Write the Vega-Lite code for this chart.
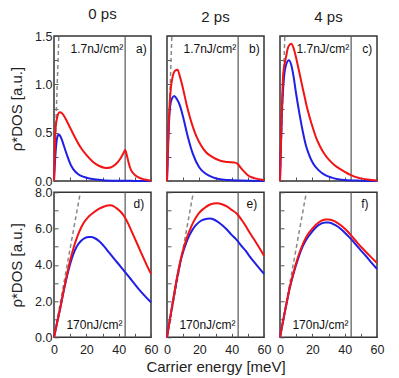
{
"$schema": "https://vega.github.io/schema/vega-lite/v6.json",
"padding": {"left": 8, "top": 6, "right": 5, "bottom": 3},
"bounds": "flush",
"columns": 3,
"spacing": {"row": 11.3, "column": 16},
"config": {
  "font": "Liberation Sans",
  "view": {"stroke": "#333", "strokeWidth": 1.5},
  "axis": {"domain": false, "grid": false, "tickCount": 20, "tickSize": -4, "tickColor": "#555", "tickWidth": 1, "labelFont": "Liberation Sans", "labelFontSize": 12.5, "labelColor": "#222", "titleFont": "Liberation Sans", "titleFontSize": 15, "titleFontWeight": "normal", "titleColor": "#222", "labelFlush": false, "labelOverlap": false},
  "axisX": {"labelPadding": 10, "titlePadding": 4},
  "axisY": {"labelPadding": 6, "titlePadding": 10},
  "title": {"font": "Liberation Sans", "fontSize": 15, "fontWeight": "normal", "color": "#222", "offset": 8}
},
"datasets": {
  "dashTop": [{"x": 0, "y": 0}, {"x": 3, "y": 1.5}],
  "dashBot": [{"x": 0, "y": 0}, {"x": 16.3, "y": 8}],
  "curves": [
    {"p":"a","s":"c1","x":0,"y":0},{"p":"a","s":"c1","x":1,"y":0.3},{"p":"a","s":"c1","x":2,"y":0.45},{"p":"a","s":"c1","x":3,"y":0.48},{"p":"a","s":"c1","x":4,"y":0.46},{"p":"a","s":"c1","x":5,"y":0.42},{"p":"a","s":"c1","x":6,"y":0.37},{"p":"a","s":"c1","x":8,"y":0.27},{"p":"a","s":"c1","x":10,"y":0.18},{"p":"a","s":"c1","x":12,"y":0.12},{"p":"a","s":"c1","x":15,"y":0.07},{"p":"a","s":"c1","x":18,"y":0.045},{"p":"a","s":"c1","x":22,"y":0.026},{"p":"a","s":"c1","x":26,"y":0.015},{"p":"a","s":"c1","x":30,"y":0.009},{"p":"a","s":"c1","x":40,"y":0.003},{"p":"a","s":"c1","x":50,"y":0.001},{"p":"a","s":"c1","x":60,"y":0},
    {"p":"a","s":"c2","x":0,"y":0},{"p":"a","s":"c2","x":1,"y":0.55},{"p":"a","s":"c2","x":2,"y":0.66},{"p":"a","s":"c2","x":3.5,"y":0.71},{"p":"a","s":"c2","x":5,"y":0.7},{"p":"a","s":"c2","x":7,"y":0.65},{"p":"a","s":"c2","x":10,"y":0.55},{"p":"a","s":"c2","x":13,"y":0.45},{"p":"a","s":"c2","x":16,"y":0.36},{"p":"a","s":"c2","x":20,"y":0.27},{"p":"a","s":"c2","x":24,"y":0.2},{"p":"a","s":"c2","x":28,"y":0.155},{"p":"a","s":"c2","x":32,"y":0.135},{"p":"a","s":"c2","x":35,"y":0.14},{"p":"a","s":"c2","x":38,"y":0.17},{"p":"a","s":"c2","x":41,"y":0.23},{"p":"a","s":"c2","x":43,"y":0.29},{"p":"a","s":"c2","x":44,"y":0.32},{"p":"a","s":"c2","x":45,"y":0.27},{"p":"a","s":"c2","x":46,"y":0.2},{"p":"a","s":"c2","x":47,"y":0.14},{"p":"a","s":"c2","x":49,"y":0.08},{"p":"a","s":"c2","x":52,"y":0.04},{"p":"a","s":"c2","x":56,"y":0.015},{"p":"a","s":"c2","x":60,"y":0.003},
    {"p":"b","s":"c1","x":0,"y":0},{"p":"b","s":"c1","x":1,"y":0.52},{"p":"b","s":"c1","x":2,"y":0.78},{"p":"b","s":"c1","x":3,"y":0.85},{"p":"b","s":"c1","x":4.5,"y":0.88},{"p":"b","s":"c1","x":6,"y":0.85},{"p":"b","s":"c1","x":8,"y":0.78},{"p":"b","s":"c1","x":10,"y":0.66},{"p":"b","s":"c1","x":13,"y":0.45},{"p":"b","s":"c1","x":16,"y":0.28},{"p":"b","s":"c1","x":20,"y":0.14},{"p":"b","s":"c1","x":24,"y":0.075},{"p":"b","s":"c1","x":28,"y":0.04},{"p":"b","s":"c1","x":32,"y":0.02},{"p":"b","s":"c1","x":38,"y":0.01},{"p":"b","s":"c1","x":45,"y":0.005},{"p":"b","s":"c1","x":60,"y":0.001},
    {"p":"b","s":"c2","x":0,"y":0},{"p":"b","s":"c2","x":0.8,"y":0.49},{"p":"b","s":"c2","x":1.8,"y":0.84},{"p":"b","s":"c2","x":3.5,"y":1.08},{"p":"b","s":"c2","x":5,"y":1.14},{"p":"b","s":"c2","x":6.5,"y":1.15},{"p":"b","s":"c2","x":8,"y":1.08},{"p":"b","s":"c2","x":10,"y":0.95},{"p":"b","s":"c2","x":12,"y":0.8},{"p":"b","s":"c2","x":14,"y":0.67},{"p":"b","s":"c2","x":16,"y":0.56},{"p":"b","s":"c2","x":18,"y":0.47},{"p":"b","s":"c2","x":21,"y":0.37},{"p":"b","s":"c2","x":24,"y":0.3},{"p":"b","s":"c2","x":27,"y":0.26},{"p":"b","s":"c2","x":30,"y":0.23},{"p":"b","s":"c2","x":33,"y":0.21},{"p":"b","s":"c2","x":36,"y":0.2},{"p":"b","s":"c2","x":39,"y":0.195},{"p":"b","s":"c2","x":42,"y":0.19},{"p":"b","s":"c2","x":43.5,"y":0.18},{"p":"b","s":"c2","x":45,"y":0.15},{"p":"b","s":"c2","x":47,"y":0.11},{"p":"b","s":"c2","x":50,"y":0.06},{"p":"b","s":"c2","x":54,"y":0.03},{"p":"b","s":"c2","x":60,"y":0.01},
    {"p":"c","s":"c1","x":0,"y":0},{"p":"c","s":"c1","x":1,"y":0.63},{"p":"c","s":"c1","x":2.5,"y":1.08},{"p":"c","s":"c1","x":3.7,"y":1.2},{"p":"c","s":"c1","x":5.5,"y":1.25},{"p":"c","s":"c1","x":7,"y":1.2},{"p":"c","s":"c1","x":8.5,"y":1.07},{"p":"c","s":"c1","x":10,"y":0.9},{"p":"c","s":"c1","x":12,"y":0.7},{"p":"c","s":"c1","x":14,"y":0.52},{"p":"c","s":"c1","x":16,"y":0.37},{"p":"c","s":"c1","x":18,"y":0.27},{"p":"c","s":"c1","x":20.5,"y":0.18},{"p":"c","s":"c1","x":24,"y":0.11},{"p":"c","s":"c1","x":28,"y":0.06},{"p":"c","s":"c1","x":32,"y":0.035},{"p":"c","s":"c1","x":36,"y":0.018},{"p":"c","s":"c1","x":40,"y":0.01},{"p":"c","s":"c1","x":50,"y":0.003},{"p":"c","s":"c1","x":60,"y":0},
    {"p":"c","s":"c2","x":0,"y":0},{"p":"c","s":"c2","x":1,"y":0.66},{"p":"c","s":"c2","x":2,"y":1.11},{"p":"c","s":"c2","x":3.7,"y":1.28},{"p":"c","s":"c2","x":5.2,"y":1.39},{"p":"c","s":"c2","x":7,"y":1.42},{"p":"c","s":"c2","x":8.5,"y":1.37},{"p":"c","s":"c2","x":10.3,"y":1.25},{"p":"c","s":"c2","x":12,"y":1.12},{"p":"c","s":"c2","x":13.4,"y":1.01},{"p":"c","s":"c2","x":15,"y":0.89},{"p":"c","s":"c2","x":16.4,"y":0.78},{"p":"c","s":"c2","x":18.5,"y":0.65},{"p":"c","s":"c2","x":20.5,"y":0.54},{"p":"c","s":"c2","x":22.5,"y":0.44},{"p":"c","s":"c2","x":24.7,"y":0.36},{"p":"c","s":"c2","x":27.5,"y":0.28},{"p":"c","s":"c2","x":30.8,"y":0.21},{"p":"c","s":"c2","x":34,"y":0.16},{"p":"c","s":"c2","x":37,"y":0.125},{"p":"c","s":"c2","x":40,"y":0.095},{"p":"c","s":"c2","x":43.2,"y":0.065},{"p":"c","s":"c2","x":46,"y":0.045},{"p":"c","s":"c2","x":49.3,"y":0.03},{"p":"c","s":"c2","x":54,"y":0.015},{"p":"c","s":"c2","x":60,"y":0.006},
    {"p":"d","s":"c1","x":0,"y":0},{"p":"d","s":"c1","x":2,"y":0.84},{"p":"d","s":"c1","x":4,"y":1.67},{"p":"d","s":"c1","x":6,"y":2.55},{"p":"d","s":"c1","x":8,"y":3.35},{"p":"d","s":"c1","x":10,"y":4.05},{"p":"d","s":"c1","x":12,"y":4.6},{"p":"d","s":"c1","x":14,"y":5.0},{"p":"d","s":"c1","x":16.5,"y":5.3},{"p":"d","s":"c1","x":19,"y":5.47},{"p":"d","s":"c1","x":21.6,"y":5.53},{"p":"d","s":"c1","x":23,"y":5.53},{"p":"d","s":"c1","x":25,"y":5.48},{"p":"d","s":"c1","x":28,"y":5.3},{"p":"d","s":"c1","x":31,"y":5.02},{"p":"d","s":"c1","x":34,"y":4.68},{"p":"d","s":"c1","x":37,"y":4.35},{"p":"d","s":"c1","x":40,"y":4.03},{"p":"d","s":"c1","x":44,"y":3.6},{"p":"d","s":"c1","x":48,"y":3.15},{"p":"d","s":"c1","x":52,"y":2.7},{"p":"d","s":"c1","x":56,"y":2.3},{"p":"d","s":"c1","x":60,"y":1.93},
    {"p":"d","s":"c2","x":0,"y":0},{"p":"d","s":"c2","x":2,"y":0.84},{"p":"d","s":"c2","x":4,"y":1.67},{"p":"d","s":"c2","x":6,"y":2.6},{"p":"d","s":"c2","x":8,"y":3.45},{"p":"d","s":"c2","x":10,"y":4.25},{"p":"d","s":"c2","x":12,"y":4.9},{"p":"d","s":"c2","x":14.4,"y":5.55},{"p":"d","s":"c2","x":16.5,"y":6.0},{"p":"d","s":"c2","x":18.5,"y":6.33},{"p":"d","s":"c2","x":21,"y":6.62},{"p":"d","s":"c2","x":24.7,"y":6.9},{"p":"d","s":"c2","x":28,"y":7.1},{"p":"d","s":"c2","x":31,"y":7.22},{"p":"d","s":"c2","x":35,"y":7.28},{"p":"d","s":"c2","x":37,"y":7.22},{"p":"d","s":"c2","x":39,"y":7.1},{"p":"d","s":"c2","x":41.5,"y":6.9},{"p":"d","s":"c2","x":44,"y":6.6},{"p":"d","s":"c2","x":46.5,"y":6.15},{"p":"d","s":"c2","x":49,"y":5.65},{"p":"d","s":"c2","x":52,"y":5.05},{"p":"d","s":"c2","x":54.5,"y":4.55},{"p":"d","s":"c2","x":57,"y":4.05},{"p":"d","s":"c2","x":60,"y":3.5},
    {"p":"e","s":"c1","x":0,"y":0},{"p":"e","s":"c1","x":2,"y":1.1},{"p":"e","s":"c1","x":4,"y":2.15},{"p":"e","s":"c1","x":6,"y":3.15},{"p":"e","s":"c1","x":9,"y":4.41},{"p":"e","s":"c1","x":12,"y":5.24},{"p":"e","s":"c1","x":14,"y":5.65},{"p":"e","s":"c1","x":16,"y":5.97},{"p":"e","s":"c1","x":18,"y":6.2},{"p":"e","s":"c1","x":21,"y":6.43},{"p":"e","s":"c1","x":24,"y":6.53},{"p":"e","s":"c1","x":26.5,"y":6.55},{"p":"e","s":"c1","x":29,"y":6.5},{"p":"e","s":"c1","x":31,"y":6.4},{"p":"e","s":"c1","x":34,"y":6.2},{"p":"e","s":"c1","x":37,"y":5.95},{"p":"e","s":"c1","x":40,"y":5.65},{"p":"e","s":"c1","x":43.5,"y":5.33},{"p":"e","s":"c1","x":46,"y":5.05},{"p":"e","s":"c1","x":48.6,"y":4.78},{"p":"e","s":"c1","x":51,"y":4.48},{"p":"e","s":"c1","x":53.7,"y":4.17},{"p":"e","s":"c1","x":57,"y":3.82},{"p":"e","s":"c1","x":60,"y":3.5},
    {"p":"e","s":"c2","x":0,"y":0},{"p":"e","s":"c2","x":2,"y":1.1},{"p":"e","s":"c2","x":4,"y":2.15},{"p":"e","s":"c2","x":6,"y":3.2},{"p":"e","s":"c2","x":9,"y":4.5},{"p":"e","s":"c2","x":12,"y":5.42},{"p":"e","s":"c2","x":14,"y":5.9},{"p":"e","s":"c2","x":16,"y":6.3},{"p":"e","s":"c2","x":18,"y":6.62},{"p":"e","s":"c2","x":20,"y":6.88},{"p":"e","s":"c2","x":23,"y":7.12},{"p":"e","s":"c2","x":26,"y":7.3},{"p":"e","s":"c2","x":29,"y":7.38},{"p":"e","s":"c2","x":31,"y":7.39},{"p":"e","s":"c2","x":34,"y":7.34},{"p":"e","s":"c2","x":37,"y":7.22},{"p":"e","s":"c2","x":40,"y":7.03},{"p":"e","s":"c2","x":43.5,"y":6.79},{"p":"e","s":"c2","x":46,"y":6.5},{"p":"e","s":"c2","x":48.6,"y":6.15},{"p":"e","s":"c2","x":51,"y":5.8},{"p":"e","s":"c2","x":53.7,"y":5.42},{"p":"e","s":"c2","x":57,"y":4.95},{"p":"e","s":"c2","x":60,"y":4.5},
    {"p":"f","s":"c1","x":0,"y":0},{"p":"f","s":"c1","x":2,"y":0.95},{"p":"f","s":"c1","x":4,"y":1.85},{"p":"f","s":"c1","x":6,"y":2.7},{"p":"f","s":"c1","x":8,"y":3.4},{"p":"f","s":"c1","x":10,"y":4.0},{"p":"f","s":"c1","x":13,"y":4.8},{"p":"f","s":"c1","x":16,"y":5.35},{"p":"f","s":"c1","x":20,"y":5.85},{"p":"f","s":"c1","x":24,"y":6.2},{"p":"f","s":"c1","x":28,"y":6.33},{"p":"f","s":"c1","x":30,"y":6.33},{"p":"f","s":"c1","x":34,"y":6.2},{"p":"f","s":"c1","x":38,"y":5.95},{"p":"f","s":"c1","x":42,"y":5.6},{"p":"f","s":"c1","x":44,"y":5.42},{"p":"f","s":"c1","x":48,"y":5.0},{"p":"f","s":"c1","x":52,"y":4.6},{"p":"f","s":"c1","x":56,"y":4.18},{"p":"f","s":"c1","x":60,"y":3.77},
    {"p":"f","s":"c2","x":0,"y":0},{"p":"f","s":"c2","x":2,"y":0.95},{"p":"f","s":"c2","x":4,"y":1.85},{"p":"f","s":"c2","x":6,"y":2.75},{"p":"f","s":"c2","x":8,"y":3.45},{"p":"f","s":"c2","x":10,"y":4.1},{"p":"f","s":"c2","x":13,"y":4.9},{"p":"f","s":"c2","x":16,"y":5.5},{"p":"f","s":"c2","x":20,"y":6.0},{"p":"f","s":"c2","x":24,"y":6.35},{"p":"f","s":"c2","x":28,"y":6.5},{"p":"f","s":"c2","x":30,"y":6.5},{"p":"f","s":"c2","x":34,"y":6.4},{"p":"f","s":"c2","x":38,"y":6.15},{"p":"f","s":"c2","x":42,"y":5.82},{"p":"f","s":"c2","x":44,"y":5.62},{"p":"f","s":"c2","x":48,"y":5.2},{"p":"f","s":"c2","x":52,"y":4.82},{"p":"f","s":"c2","x":56,"y":4.45},{"p":"f","s":"c2","x":60,"y":4.1}
  ]
},
"concat": [
  {"width": 97, "height": 145, "title": "0 ps",
   "layer": [
    {"data": {"values": [{}]}, "mark": {"type": "rule", "color": "#555", "strokeWidth": 1.2}, "encoding": {"x": {"datum": 44, "type": "quantitative"}}},
    {"data": {"name": "dashTop"}, "mark": {"type": "line", "color": "#888", "strokeDash": [4, 3], "strokeWidth": 1.5}, "encoding": {"x": {"field": "x", "type": "quantitative"}, "y": {"field": "y", "type": "quantitative"}}},
    {"data": {"name": "curves"}, "transform": [{"filter": "datum.p == 'a'"}], "mark": {"type": "line", "strokeWidth": 2, "interpolate": "monotone"},
     "encoding": {
      "x": {"field": "x", "type": "quantitative", "scale": {"domain": [0, 60], "nice": false}, "axis": {"title": null, "values": [0,10,20,30,40,50,60], "tickCount": 20, "labels": false}},
      "y": {"field": "y", "type": "quantitative", "scale": {"domain": [0, 1.5], "nice": false}, "axis": {"title": "ρ*DOS [a.u.]", "values": [0,0.25,0.5,0.75,1,1.25,1.5], "tickCount": 20, "format": ".1f", "labelOpacity": {"condition": {"test": "datum.value % 0.5 != 0", "value": 0}, "value": 1}}},
      "color": {"field": "s", "type": "nominal", "scale": {"domain": ["c1", "c2"], "range": ["#1f1fe6", "#f21414"]}, "legend": null}}},
    {"data": {"values": [{}]}, "mark": {"type": "text", "fontSize": 12, "color": "#111"}, "encoding": {"x": {"datum": 26.5, "type": "quantitative"}, "y": {"datum": 1.37, "type": "quantitative"}, "text": {"value": "1.7nJ/cm²"}}},
    {"data": {"values": [{}]}, "mark": {"type": "text", "fontSize": 12, "color": "#111"}, "encoding": {"x": {"datum": 54, "type": "quantitative"}, "y": {"datum": 1.37, "type": "quantitative"}, "text": {"value": "a)"}}}
   ]},
  {"width": 97, "height": 145, "title": "2 ps",
   "layer": [
    {"data": {"values": [{}]}, "mark": {"type": "rule", "color": "#555", "strokeWidth": 1.2}, "encoding": {"x": {"datum": 44, "type": "quantitative"}}},
    {"data": {"name": "dashTop"}, "mark": {"type": "line", "color": "#888", "strokeDash": [4, 3], "strokeWidth": 1.5}, "encoding": {"x": {"field": "x", "type": "quantitative"}, "y": {"field": "y", "type": "quantitative"}}},
    {"data": {"name": "curves"}, "transform": [{"filter": "datum.p == 'b'"}], "mark": {"type": "line", "strokeWidth": 2, "interpolate": "monotone"},
     "encoding": {
      "x": {"field": "x", "type": "quantitative", "scale": {"domain": [0, 60], "nice": false}, "axis": {"title": null, "values": [0,10,20,30,40,50,60], "tickCount": 20, "labels": false}},
      "y": {"field": "y", "type": "quantitative", "scale": {"domain": [0, 1.5], "nice": false}, "axis": {"title": null, "values": [0,0.25,0.5,0.75,1,1.25,1.5], "tickCount": 20, "labels": false}},
      "color": {"field": "s", "type": "nominal", "scale": {"domain": ["c1", "c2"], "range": ["#1f1fe6", "#f21414"]}, "legend": null}}},
    {"data": {"values": [{}]}, "mark": {"type": "text", "fontSize": 12, "color": "#111"}, "encoding": {"x": {"datum": 26.5, "type": "quantitative"}, "y": {"datum": 1.37, "type": "quantitative"}, "text": {"value": "1.7nJ/cm²"}}},
    {"data": {"values": [{}]}, "mark": {"type": "text", "fontSize": 12, "color": "#111"}, "encoding": {"x": {"datum": 54, "type": "quantitative"}, "y": {"datum": 1.37, "type": "quantitative"}, "text": {"value": "b)"}}}
   ]},
  {"width": 97, "height": 145, "title": "4 ps",
   "layer": [
    {"data": {"values": [{}]}, "mark": {"type": "rule", "color": "#555", "strokeWidth": 1.2}, "encoding": {"x": {"datum": 44, "type": "quantitative"}}},
    {"data": {"name": "dashTop"}, "mark": {"type": "line", "color": "#888", "strokeDash": [4, 3], "strokeWidth": 1.5}, "encoding": {"x": {"field": "x", "type": "quantitative"}, "y": {"field": "y", "type": "quantitative"}}},
    {"data": {"name": "curves"}, "transform": [{"filter": "datum.p == 'c'"}], "mark": {"type": "line", "strokeWidth": 2, "interpolate": "monotone"},
     "encoding": {
      "x": {"field": "x", "type": "quantitative", "scale": {"domain": [0, 60], "nice": false}, "axis": {"title": null, "values": [0,10,20,30,40,50,60], "tickCount": 20, "labels": false}},
      "y": {"field": "y", "type": "quantitative", "scale": {"domain": [0, 1.5], "nice": false}, "axis": {"title": null, "values": [0,0.25,0.5,0.75,1,1.25,1.5], "tickCount": 20, "labels": false}},
      "color": {"field": "s", "type": "nominal", "scale": {"domain": ["c1", "c2"], "range": ["#1f1fe6", "#f21414"]}, "legend": null}}},
    {"data": {"values": [{}]}, "mark": {"type": "text", "fontSize": 12, "color": "#111"}, "encoding": {"x": {"datum": 26.5, "type": "quantitative"}, "y": {"datum": 1.37, "type": "quantitative"}, "text": {"value": "1.7nJ/cm²"}}},
    {"data": {"values": [{}]}, "mark": {"type": "text", "fontSize": 12, "color": "#111"}, "encoding": {"x": {"datum": 54, "type": "quantitative"}, "y": {"datum": 1.37, "type": "quantitative"}, "text": {"value": "c)"}}}
   ]},
  {"width": 97, "height": 145,
   "layer": [
    {"data": {"values": [{}]}, "mark": {"type": "rule", "color": "#555", "strokeWidth": 1.2}, "encoding": {"x": {"datum": 44, "type": "quantitative"}}},
    {"data": {"name": "dashBot"}, "mark": {"type": "line", "color": "#888", "strokeDash": [4, 3], "strokeWidth": 1.5}, "encoding": {"x": {"field": "x", "type": "quantitative"}, "y": {"field": "y", "type": "quantitative"}}},
    {"data": {"name": "curves"}, "transform": [{"filter": "datum.p == 'd'"}], "mark": {"type": "line", "strokeWidth": 2, "interpolate": "monotone"},
     "encoding": {
      "x": {"field": "x", "type": "quantitative", "scale": {"domain": [0, 60], "nice": false}, "axis": {"title": null, "values": [0,10,20,30,40,50,60], "tickCount": 20, "labelOpacity": {"condition": {"test": "datum.value % 20 != 0", "value": 0}, "value": 1}}},
      "y": {"field": "y", "type": "quantitative", "scale": {"domain": [0, 8], "nice": false}, "axis": {"title": "ρ*DOS [a.u.]", "values": [0,1,2,3,4,5,6,7,8], "tickCount": 20, "format": ".1f", "labelOpacity": {"condition": {"test": "datum.value % 2 != 0", "value": 0}, "value": 1}}},
      "color": {"field": "s", "type": "nominal", "scale": {"domain": ["c1", "c2"], "range": ["#1f1fe6", "#f21414"]}, "legend": null}}},
    {"data": {"values": [{}]}, "mark": {"type": "text", "fontSize": 12, "color": "#111"}, "encoding": {"x": {"datum": 25, "type": "quantitative"}, "y": {"datum": 0.66, "type": "quantitative"}, "text": {"value": "170nJ/cm²"}}},
    {"data": {"values": [{}]}, "mark": {"type": "text", "fontSize": 12, "color": "#111"}, "encoding": {"x": {"datum": 52.5, "type": "quantitative"}, "y": {"datum": 7.35, "type": "quantitative"}, "text": {"value": "d)"}}}
   ]},
  {"width": 97, "height": 145,
   "layer": [
    {"data": {"values": [{}]}, "mark": {"type": "rule", "color": "#555", "strokeWidth": 1.2}, "encoding": {"x": {"datum": 44, "type": "quantitative"}}},
    {"data": {"name": "dashBot"}, "mark": {"type": "line", "color": "#888", "strokeDash": [4, 3], "strokeWidth": 1.5}, "encoding": {"x": {"field": "x", "type": "quantitative"}, "y": {"field": "y", "type": "quantitative"}}},
    {"data": {"name": "curves"}, "transform": [{"filter": "datum.p == 'e'"}], "mark": {"type": "line", "strokeWidth": 2, "interpolate": "monotone"},
     "encoding": {
      "x": {"field": "x", "type": "quantitative", "scale": {"domain": [0, 60], "nice": false}, "axis": {"title": "Carrier energy [meV]", "values": [0,10,20,30,40,50,60], "tickCount": 20, "labelOpacity": {"condition": {"test": "datum.value % 20 != 0", "value": 0}, "value": 1}}},
      "y": {"field": "y", "type": "quantitative", "scale": {"domain": [0, 8], "nice": false}, "axis": {"title": null, "values": [0,1,2,3,4,5,6,7,8], "tickCount": 20, "labels": false}},
      "color": {"field": "s", "type": "nominal", "scale": {"domain": ["c1", "c2"], "range": ["#1f1fe6", "#f21414"]}, "legend": null}}},
    {"data": {"values": [{}]}, "mark": {"type": "text", "fontSize": 12, "color": "#111"}, "encoding": {"x": {"datum": 25, "type": "quantitative"}, "y": {"datum": 0.66, "type": "quantitative"}, "text": {"value": "170nJ/cm²"}}},
    {"data": {"values": [{}]}, "mark": {"type": "text", "fontSize": 12, "color": "#111"}, "encoding": {"x": {"datum": 52.5, "type": "quantitative"}, "y": {"datum": 7.35, "type": "quantitative"}, "text": {"value": "e)"}}}
   ]},
  {"width": 97, "height": 145,
   "layer": [
    {"data": {"values": [{}]}, "mark": {"type": "rule", "color": "#555", "strokeWidth": 1.2}, "encoding": {"x": {"datum": 44, "type": "quantitative"}}},
    {"data": {"name": "dashBot"}, "mark": {"type": "line", "color": "#888", "strokeDash": [4, 3], "strokeWidth": 1.5}, "encoding": {"x": {"field": "x", "type": "quantitative"}, "y": {"field": "y", "type": "quantitative"}}},
    {"data": {"name": "curves"}, "transform": [{"filter": "datum.p == 'f'"}], "mark": {"type": "line", "strokeWidth": 2, "interpolate": "monotone"},
     "encoding": {
      "x": {"field": "x", "type": "quantitative", "scale": {"domain": [0, 60], "nice": false}, "axis": {"title": null, "values": [0,10,20,30,40,50,60], "tickCount": 20, "labelOpacity": {"condition": {"test": "datum.value % 20 != 0", "value": 0}, "value": 1}}},
      "y": {"field": "y", "type": "quantitative", "scale": {"domain": [0, 8], "nice": false}, "axis": {"title": null, "values": [0,1,2,3,4,5,6,7,8], "tickCount": 20, "labels": false}},
      "color": {"field": "s", "type": "nominal", "scale": {"domain": ["c1", "c2"], "range": ["#1f1fe6", "#f21414"]}, "legend": null}}},
    {"data": {"values": [{}]}, "mark": {"type": "text", "fontSize": 12, "color": "#111"}, "encoding": {"x": {"datum": 25, "type": "quantitative"}, "y": {"datum": 0.66, "type": "quantitative"}, "text": {"value": "170nJ/cm²"}}},
    {"data": {"values": [{}]}, "mark": {"type": "text", "fontSize": 12, "color": "#111"}, "encoding": {"x": {"datum": 52.5, "type": "quantitative"}, "y": {"datum": 7.35, "type": "quantitative"}, "text": {"value": "f)"}}}
   ]}
]
}
